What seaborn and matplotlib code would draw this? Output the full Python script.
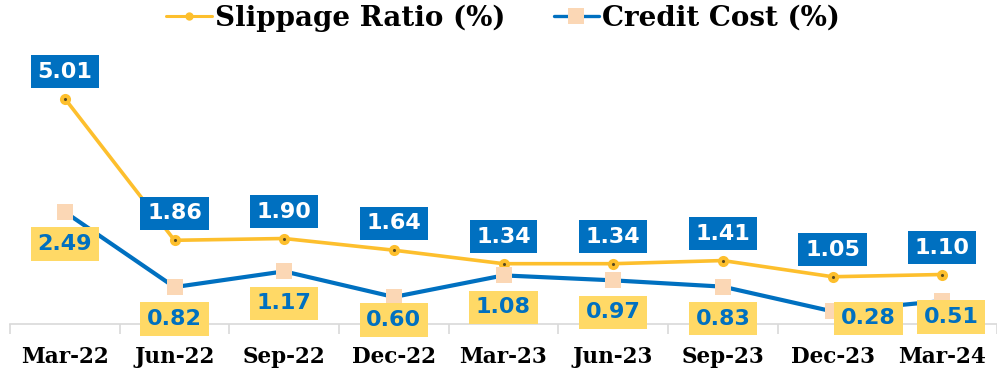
import matplotlib
matplotlib.use("Agg")
import matplotlib.pyplot as plt
from matplotlib.lines import Line2D
import seaborn as sns
import pandas as pd

# Quarter labels and the two asset-quality series
quarters = ["Mar-22", "Jun-22", "Sep-22", "Dec-22", "Mar-23",
            "Jun-23", "Sep-23", "Dec-23", "Mar-24"]
slippage_ratio = [5.01, 1.86, 1.90, 1.64, 1.34, 1.34, 1.41, 1.05, 1.10]
credit_cost = [2.49, 0.82, 1.17, 0.60, 1.08, 0.97, 0.83, 0.28, 0.51]

GOLD = "#FDBF2D"
BLUE = "#0070C0"
LABEL_YELLOW = "#FFD966"
PEACH = "#FBD7B5"

df = pd.DataFrame({"quarter": quarters,
                   "Slippage Ratio (%)": slippage_ratio,
                   "Credit Cost (%)": credit_cost})

sns.set_theme(style="white")
plt.rcParams["font.family"] = ["DejaVu Serif"]

fig = plt.figure(figsize=(9.97, 3.70), dpi=100)
ax = fig.add_axes([10 / 997, 46 / 370, 987 / 997, 279 / 370])

sns.lineplot(data=df, x="quarter", y="Slippage Ratio (%)", ax=ax, color=GOLD,
             linewidth=2.6, marker="o", markersize=8, markeredgewidth=0,
             markerfacecolor=GOLD, sort=False, zorder=3)
sns.lineplot(data=df, x="quarter", y="Credit Cost (%)", ax=ax, color=BLUE,
             linewidth=3.0, marker="s", markersize=12, markeredgewidth=0,
             markerfacecolor=PEACH, sort=False, zorder=3)
# small dark centre dot on the slippage markers
ax.scatter(range(len(quarters)), slippage_ratio, s=1.5, color="#5a4a20", zorder=4)

ax.set_xlim(-0.5, len(quarters) - 0.5)
ax.set_ylim(0, 6.2)
ax.set_xlabel("")
ax.set_ylabel("")
ax.set_yticks([])
for side in ["left", "right", "top"]:
    ax.spines[side].set_visible(False)
ax.spines["bottom"].set_color("#d9d9d9")
ax.spines["bottom"].set_linewidth(1.2)

ax.set_xticks(range(len(quarters)))
ax.set_xticklabels(quarters, fontsize=15.5, fontweight="bold", color="black")
ax.tick_params(axis="x", which="major", length=0, pad=16)
ax.set_xticks([i - 0.5 for i in range(len(quarters) + 1)], minor=True)
ax.tick_params(axis="x", which="minor", length=7, width=1.2, color="#d9d9d9",
               direction="out", bottom=True)

px = 72 / 100  # points per pixel at 100 dpi

# value labels above the slippage line
for i, v in enumerate(slippage_ratio):
    ax.annotate(f"{v:.2f}", (i, v), xytext=(0, 27 * px), textcoords="offset points",
                ha="center", va="center", fontsize=16, fontweight="bold",
                family="DejaVu Sans", color="white", zorder=6,
                bbox=dict(boxstyle="square,pad=0.3", fc=BLUE, ec="none"))

# value labels below the credit-cost line (offsets in pixels)
cc_offsets = [(0, -32), (0, -32), (0, -32), (0, -23), (0, -32),
              (0, -32), (0, -32), (36, -7), (9, -16)]
for (dx, dy), i, v in zip(cc_offsets, range(len(credit_cost)), credit_cost):
    ax.annotate(f"{v:.2f}", (i, v), xytext=(dx * px, dy * px), textcoords="offset points",
                ha="center", va="center", fontsize=16, fontweight="bold",
                family="DejaVu Sans", color=BLUE, zorder=6,
                bbox=dict(boxstyle="square,pad=0.3", fc=LABEL_YELLOW, ec="none"))

handles = [
    Line2D([], [], color=GOLD, linewidth=2.2, marker="o", markersize=6,
           markerfacecolor=GOLD, markeredgewidth=0),
    Line2D([], [], color=BLUE, linewidth=2.4, marker="s", markersize=12,
           markerfacecolor=PEACH, markeredgewidth=0),
]
leg = fig.legend(handles, ["Slippage Ratio (%)", "Credit Cost (%)"], loc="center",
                 bbox_to_anchor=(503 / 997, 1 - 18 / 370), ncol=2, frameon=False,
                 handlelength=1.65, handletextpad=0.1, columnspacing=1.75,
                 borderpad=0, prop=dict(family="DejaVu Serif", weight="bold", size=20))
for t in leg.get_texts():
    t.set_color("black")

fig.savefig("out.png", dpi=100)
